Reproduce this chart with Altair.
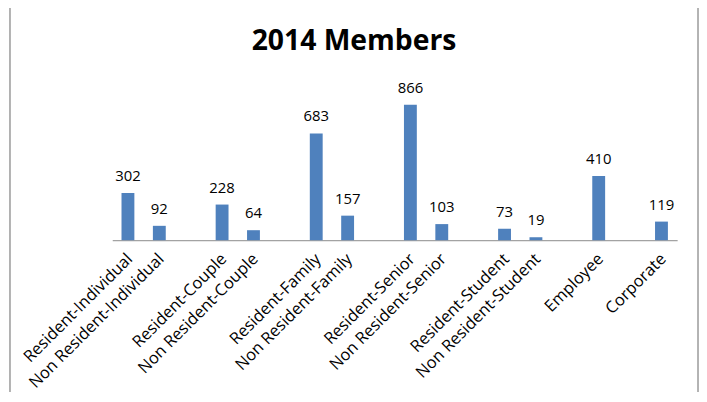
import altair as alt
import pandas as pd

categories = ["Resident-Individual", "Non Resident-Individual",
              "Resident-Couple", "Non Resident-Couple",
              "Resident-Family", "Non Resident-Family",
              "Resident-Senior", "Non Resident-Senior",
              "Resident-Student", "Non Resident-Student",
              "Employee", "Corporate"]
values = [302, 92, 228, 64, 683, 157, 866, 103, 73, 19, 410, 119]

# category slots on the axis, with blank spacer slots between groups
slots = ["Resident-Individual", "Non Resident-Individual", " ",
         "Resident-Couple", "Non Resident-Couple", "  ",
         "Resident-Family", "Non Resident-Family", "   ",
         "Resident-Senior", "Non Resident-Senior", "    ",
         "Resident-Student", "Non Resident-Student", "     ",
         "Employee", "      ", "Corporate"]

df = pd.DataFrame({"category": categories, "value": values})

FONT = "Open Sans"
W, H = 569, 157.5

x = alt.X("category:N", sort=None,
          scale=alt.Scale(domain=slots, paddingInner=0.59, paddingOuter=0.295),
          axis=alt.Axis(title=None, labelAngle=-45, labelAlign="right",
                        labelBaseline="middle", ticks=False, labelPadding=16,
                        labelOffset=2,
                        labelFont=FONT, labelFontSize=16.5, labelColor="#000000",
                        domainColor="#8a8a8a", domainWidth=1, labelOverlap=False,
                        labelLimit=300))
y = alt.Y("value:Q", scale=alt.Scale(domain=[0, 1000]), axis=None)

base = alt.Chart(df)
bars = base.mark_bar(color="#4F81BD").encode(x=x, y=y)
labels = base.mark_text(font=FONT, fontSize=15, color="#000000",
                        baseline="alphabetic", dy=-12).encode(
    x=x, y=y, text="value:Q")

frame = alt.Chart(pd.DataFrame({"a": [0]})).mark_rect(
    fillOpacity=0, stroke="#9a9a9a", strokeWidth=1.5, clip=False).encode(
    x=alt.value(-103), x2=alt.value(590), y=alt.value(-78), y2=alt.value(400))

chart = alt.layer(frame, bars, labels).properties(
    width=W, height=H,
    padding={"left": 105, "top": 75, "right": 22, "bottom": 151},
    autosize=alt.AutoSizeParams(type="none"),
    title=alt.TitleParams("2014 Members", font=FONT, fontSize=28.5,
                          fontWeight="bold", color="#000000", anchor="middle",
                          baseline="alphabetic", offset=-73.5, dx=-41),
).configure_view(stroke=None)

chart.save("out.html", embed_options={"renderer": "svg", "actions": False})
